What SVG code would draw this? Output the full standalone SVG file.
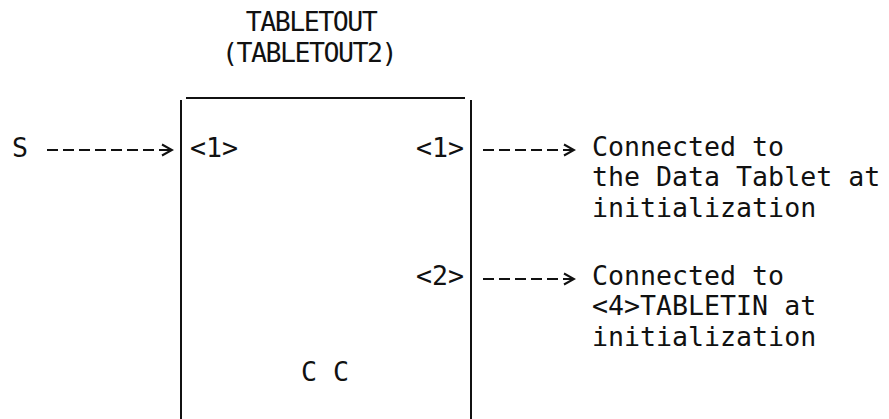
<svg xmlns="http://www.w3.org/2000/svg" width="889" height="419" viewBox="0 0 889 419">
<defs>
<style>
text{font-family:"DejaVu Sans Mono","Liberation Mono",monospace;font-size:26.6px;fill:#111}
.title{letter-spacing:-1.5px;text-anchor:middle}
.edge{stroke:#111;stroke-width:2;fill:none}
.dash{stroke:#111;stroke-width:2;fill:none;stroke-dasharray:11 5}
</style>
<marker id="chev" markerUnits="userSpaceOnUse" markerWidth="14" markerHeight="14" refX="12" refY="7" orient="auto" viewBox="0 0 14 14">
<path d="M2,1.5 L12,7 L2,12.5" fill="none" stroke="#111" stroke-width="2"/>
</marker>
</defs>
<rect width="889" height="419" fill="#fff"/>
<g id="block">
<text class="title" x="311" y="31">TABLETOUT</text>
<text class="title" x="309" y="62">(TABLETOUT2)</text>
<line class="edge" x1="186" y1="98" x2="465" y2="98" stroke-width="1.5"/>
<line class="edge" x1="181" y1="100" x2="181" y2="419"/>
<line class="edge" x1="471" y1="100" x2="471" y2="419"/>
<text x="190" y="157">&lt;1&gt;</text>
<text x="416" y="157">&lt;1&gt;</text>
<text x="416" y="285">&lt;2&gt;</text>
<text x="301" y="381">C C</text>
</g>
<g id="input-S">
<text x="12" y="157">S</text>
</g>
<g id="out1-target">
<text x="592" y="156">Connected to</text>
<text x="592" y="186">the Data Tablet at</text>
<text x="592" y="217">initialization</text>
</g>
<g id="out2-target">
<text x="592" y="285">Connected to</text>
<text x="592" y="315">&lt;4&gt;TABLETIN at</text>
<text x="592" y="346">initialization</text>
</g>
<g id="connectors">
<path class="dash" d="M47,150 H172" marker-end="url(#chev)"/>
<path class="dash" d="M483,150 H574" marker-end="url(#chev)"/>
<path class="dash" d="M483,279 H574" marker-end="url(#chev)"/>
</g>
</svg>
